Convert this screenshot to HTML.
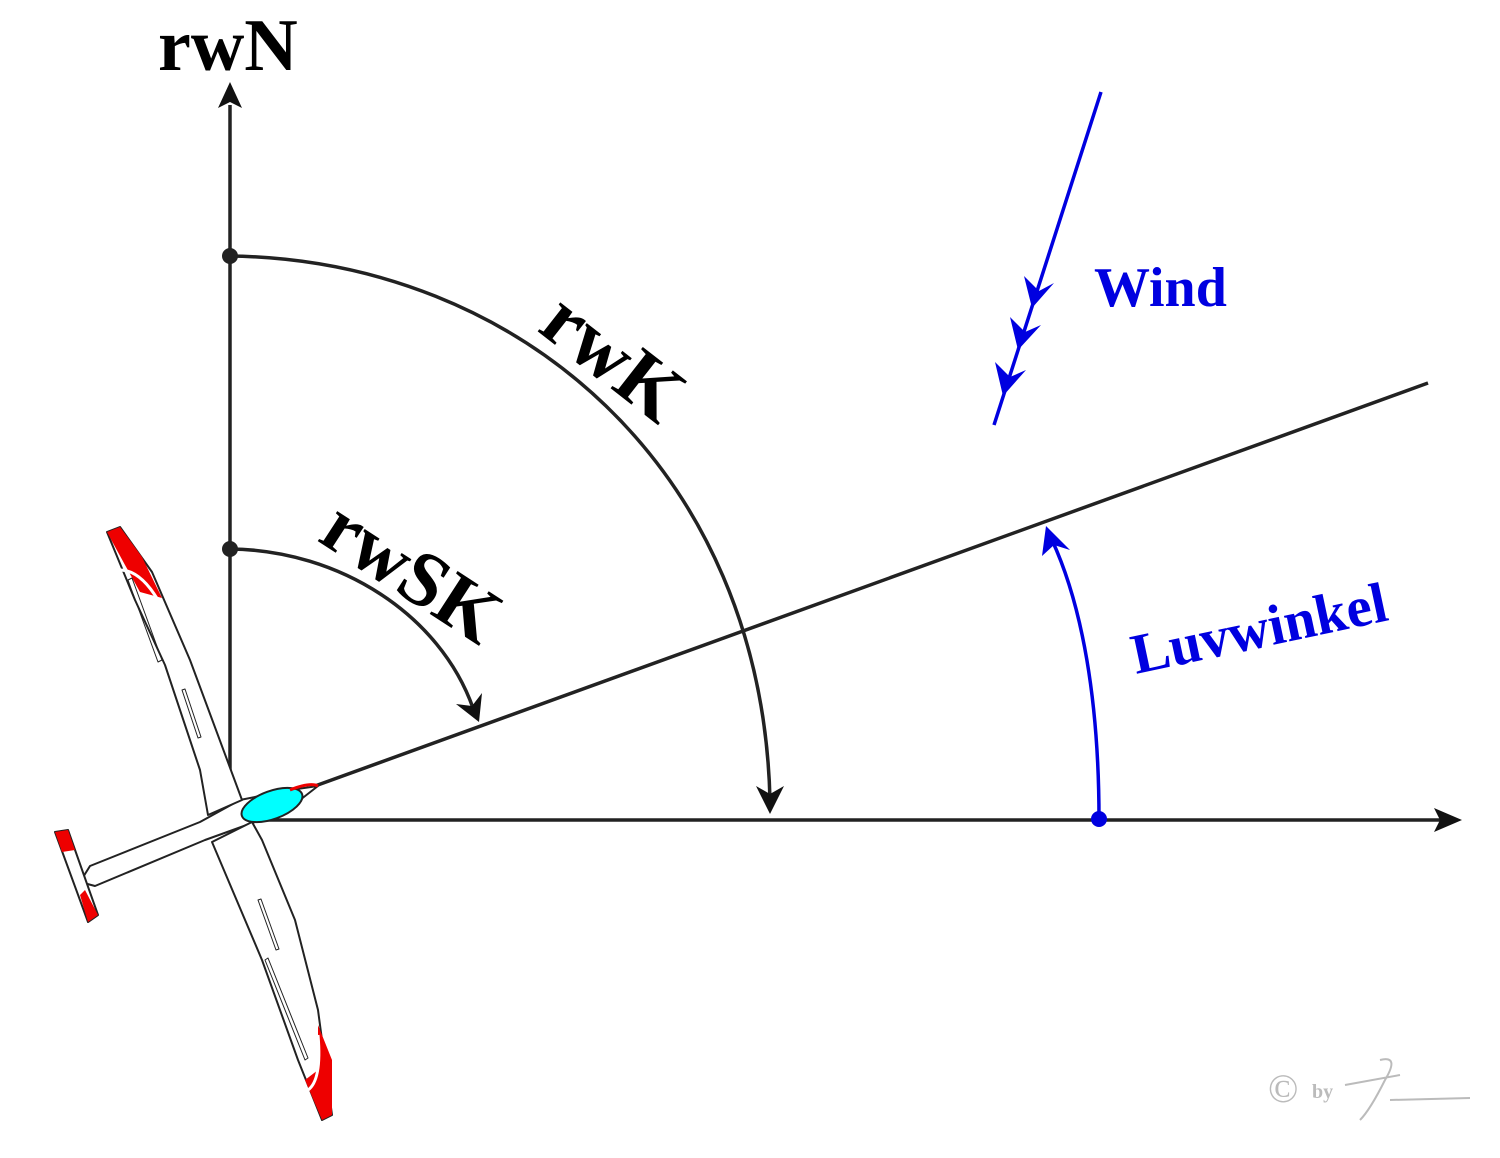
<!DOCTYPE html>
<html><head><meta charset="utf-8"><style>
html,body{margin:0;padding:0;background:#fff;}
svg{display:block;}
text{font-family:"Liberation Serif",serif;font-weight:bold;}
</style></head><body>
<svg width="1500" height="1158" viewBox="0 0 1500 1158" xmlns="http://www.w3.org/2000/svg">
<!-- axes -->
<line x1="230" y1="775" x2="230" y2="105" stroke="#222" stroke-width="3.5"/>
<path d="M230,82 L242,108 L230,102 L218,108 Z" fill="#111"/>
<line x1="255" y1="820" x2="1440" y2="820" stroke="#222" stroke-width="3.5"/>
<path d="M1462,820 L1434,808 L1440,820 L1434,832 Z" fill="#111"/>
<!-- course line -->
<line x1="315" y1="786" x2="1428" y2="383" stroke="#222" stroke-width="3.5"/>
<!-- rwK arc -->
<circle cx="230" cy="256" r="8" fill="#222"/>
<path d="M230,256 C520,260 762,470 770,800" fill="none" stroke="#222" stroke-width="3.5"/>
<path d="M770,814 L756,786 L770,794 L784,786 Z" fill="#111"/>
<!-- rwSK arc -->
<circle cx="230" cy="549" r="8" fill="#222"/>
<path d="M230,549 C340,550 440,615 473,708" fill="none" stroke="#222" stroke-width="3.5"/>
<path d="M479,722 L456,704 L472,706 L482,693 Z" fill="#111"/>
<!-- Luvwinkel -->
<circle cx="1099" cy="819" r="8" fill="#0000e0"/>
<path d="M1099,819 C1099,700 1082,605 1052,540" fill="none" stroke="#0000e0" stroke-width="3.5"/>
<path d="M1046,526 L1070,550 L1054,545 L1042,556 Z" fill="#0000e0"/>
<!-- Wind -->
<line x1="1101" y1="92" x2="994" y2="425" stroke="#0000e0" stroke-width="3.5"/>
<path d="M1032,308 L1024,276 L1039,291 L1054,283 Z" fill="#0000e0"/>
<path d="M1018,350 L1010,317 L1025,332 L1041,325 Z" fill="#0000e0"/>
<path d="M1003,396 L995,362 L1010,377 L1026,370 Z" fill="#0000e0"/>
<!-- labels -->
<text x="158" y="70" font-size="74">rwN</text>
<text x="0" y="0" font-size="80" transform="translate(536,330) rotate(38)">rwK</text>
<text x="0" y="0" font-size="78" transform="translate(316,540) rotate(33)">rwSK</text>
<text x="1094" y="306" font-size="56" fill="#0000e0">Wind</text>
<text x="0" y="0" font-size="57" fill="#0000e0" transform="translate(1136,674) rotate(-12)">Luvwinkel</text>
<!-- glider -->
<g stroke="#222" stroke-width="2" stroke-linejoin="round">
 <path d="M318,786 L290,790 L240,800 L200,822 L90,866 L80,882 L95,886 L205,840 L255,822 L300,800 Z" fill="#fff"/>
 <path d="M107,532 L120,527 L152,572 L190,660 L242,800 L208,815 L200,770 L165,665 L135,600 Z" fill="#fff"/>
 <path d="M107,532 L120,527 L142,557 L162,598 L140,592 L125,565 Z" fill="#e00" stroke="none"/>
 <path d="M120,570 Q140,570 158,600" fill="none" stroke="#fff" stroke-width="3"/>
 <path d="M252,822 L262,840 L295,920 L318,1010 L332,1115 L322,1120 L298,1060 L262,960 L212,842 Z" fill="#fff"/>
 <path d="M318,1025 L332,1060 L332,1115 L322,1120 L305,1080 L318,1070 Z" fill="#e00" stroke="none"/>
 <path d="M318,1035 Q322,1080 308,1090" fill="none" stroke="#fff" stroke-width="3"/>
 <path d="M55,832 L68,830 L98,915 L88,922 Z" fill="#fff"/>
 <path d="M55,832 L68,830 L75,850 L62,852 Z M85,890 L98,915 L88,922 L80,895 Z" fill="#e00" stroke="none"/>
 <path d="M128,580 L158,662 L162,660 L132,578 Z M182,690 L198,738 L201,737 L185,689 Z M258,900 L276,950 L279,949 L261,899 Z M265,960 L305,1060 L308,1058 L268,958 Z" fill="none" stroke-width="1"/>
 <ellipse cx="272" cy="805" rx="32" ry="14" transform="rotate(-20 272 805)" fill="#0ff"/>
 <path d="M290,790 Q310,782 318,786" fill="none" stroke="#e00" stroke-width="3"/>
</g>
<!-- copyright -->
<text x="1268" y="1102" font-size="40" font-family="Liberation Sans" fill="#bbb" style="font-weight:normal">©</text>
<text x="1312" y="1098" font-size="20" fill="#bbb" font-family="Liberation Sans">by</text>
<path d="M1345,1085 L1400,1075 M1380,1060 Q1400,1055 1385,1080 Q1370,1110 1360,1120 M1390,1100 L1470,1098" stroke="#bbb" stroke-width="2" fill="none"/>
</svg>
</body></html>
